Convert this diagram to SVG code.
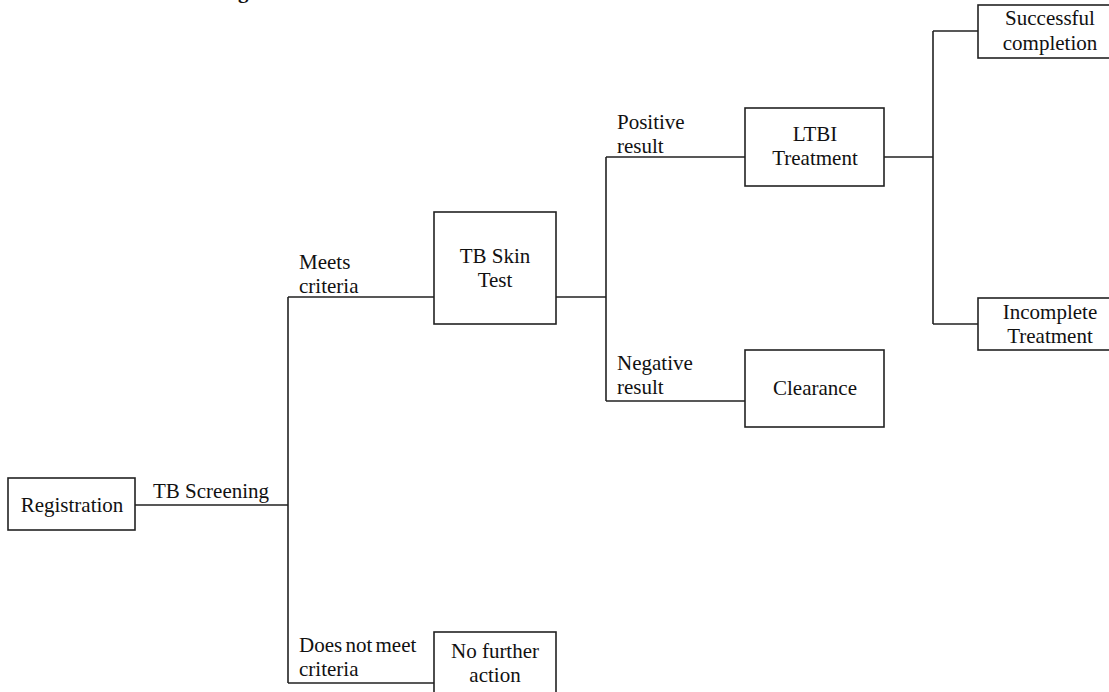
<svg xmlns="http://www.w3.org/2000/svg" width="1109" height="692" viewBox="0 0 1109 692">
<style>
.box{fill:#fff;stroke:#222;stroke-width:1.6}
.ln{fill:none;stroke:#222;stroke-width:1.6}
text{font-family:"Liberation Serif","Times New Roman",serif;font-size:21px;fill:#111}
.c{text-anchor:middle}
</style>
<rect width="1109" height="692" fill="#fff"/>
<text x="238" y="-2" style="font-weight:bold">g</text>
<g id="connectors">
<path class="ln" d="M135,505 H288 M288,297 V683 M288,297 H434 M288,683 H434"/>
<path class="ln" d="M556,297 H606 M606,157 V401 M606,157 H745 M606,401 H745"/>
<path class="ln" d="M884,157 H933 M933,31 V324 M933,31 H978 M933,324 H978"/>
<text x="153" y="498">TB Screening</text>
<text x="299" y="269">Meets</text>
<text x="299" y="293">criteria</text>
<text x="299" y="652" style="word-spacing:-2px">Does not meet</text>
<text x="299" y="676">criteria</text>
<text x="617" y="129">Positive</text>
<text x="617" y="153">result</text>
<text x="617" y="370">Negative</text>
<text x="617" y="394">result</text>
</g>
<g id="registration"><rect class="box" x="8" y="478" width="127" height="52"/><text class="c" x="72" y="512">Registration</text></g>
<g id="skintest"><rect class="box" x="434" y="212" width="122" height="112"/><text class="c" x="495" y="263">TB Skin</text><text class="c" x="495" y="287">Test</text></g>
<g id="nofurther"><rect class="box" x="434" y="632" width="122" height="70"/><text class="c" x="495" y="658">No further</text><text class="c" x="495" y="682">action</text></g>
<g id="ltbi"><rect class="box" x="745" y="108" width="139" height="78"/><text class="c" x="815" y="141">LTBI</text><text class="c" x="815" y="165">Treatment</text></g>
<g id="clearance"><rect class="box" x="745" y="350" width="139" height="77"/><text class="c" x="815" y="395">Clearance</text></g>
<g id="successful"><rect class="box" x="978" y="5" width="140" height="53"/><text class="c" x="1050" y="25">Successful</text><text class="c" x="1050" y="50">completion</text></g>
<g id="incomplete"><rect class="box" x="978" y="298" width="140" height="52"/><text class="c" x="1050" y="319">Incomplete</text><text class="c" x="1050" y="343">Treatment</text></g>
</svg>
